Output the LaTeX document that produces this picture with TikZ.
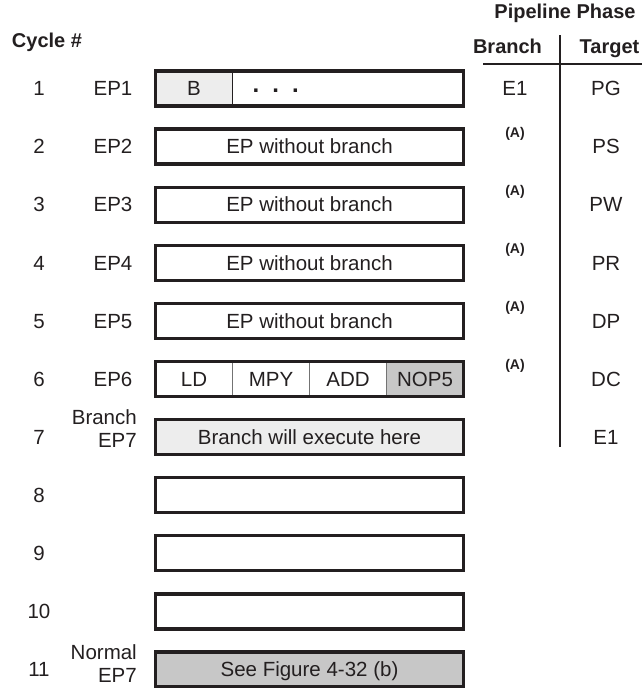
\documentclass[tikz,border=0pt]{standalone}
\usepackage{fontspec}
\setmainfont{Liberation Sans}
\usepackage{xcolor}
\usepackage{tikz}
\usetikzlibrary{positioning}
\definecolor{ink}{RGB}{35,31,32}

\begin{document}
\begin{tikzpicture}[
  x=1pt, y=-1pt,
  font=\fontsize{20.5}{23}\selectfont,
  every node/.style={text=ink},
  lbl/.style={inner sep=0pt, text height=14.5pt, text depth=0pt},
  head/.style={lbl, font=\fontsize{20}{23}\selectfont\bfseries},
  note/.style={inner sep=0pt, font=\fontsize{14}{16}\selectfont\bfseries},
  stage/.style={inner sep=0pt, align=right, anchor=east},
  row/.style={minimum width=308pt, minimum height=35pt, inner sep=0pt, outer sep=0pt, text height=14.5pt, text depth=0pt},
  cell/.style={row, minimum width=77pt},
  frame/.style={draw=ink, line width=3.3pt},
  divider/.style={draw=black!55, line width=1pt},
  rule/.style={draw=ink, line width=1.2pt},
  light/.style={fill=black!7},
  dark/.style={fill=black!22}
]
  \useasboundingbox (0,0) rectangle (642,688);

  \node[row] (r1) at (309.5,88.5) {};
  \node[row, below=23.1pt of r1] (r2) {EP without branch};
  \node[row, below=23.1pt of r2] (r3) {EP without branch};
  \node[row, below=23.1pt of r3] (r4) {EP without branch};
  \node[row, below=23.1pt of r4] (r5) {EP without branch};
  \node[row, below=23.1pt of r5] (r6) {};
  \node[row, light, below=23.1pt of r6] (r7) {Branch will execute here};
  \node[row, below=23.1pt of r7] (r8) {};
  \node[row, below=23.1pt of r8] (r9) {};
  \node[row, below=23.1pt of r9] (r10) {};
  \node[row, dark, below=23.1pt of r10] (r11) {See Figure 4-32 (b)};

  \node[cell, light, anchor=west] (b) at (r1.west) {B};
  \node[inner sep=0pt, right=20pt of b, yshift=-2pt, font=\fontsize{24}{26}\selectfont\bfseries] (dots) {.\hspace{13pt}.\hspace{13pt}.};
  \node[cell, anchor=west] (ld) at (r6.west) {LD};
  \node[cell, right=0pt of ld] (mpy) {MPY};
  \node[cell, right=0pt of mpy] (add) {ADD};
  \node[cell, dark, right=0pt of add] (nop) {NOP5};

  \draw[divider, draw=ink, line width=1.5pt] (b.north east) -- (b.south east);
  \foreach \c in {ld,mpy,add}
    \draw[divider] (\c.north east) -- (\c.south east);
  \foreach \i in {1,...,11}
    \draw[frame] (r\i.north west) rectangle (r\i.south east);

  \node[head] (cycle) at (47,40) {Cycle \#};
  \foreach \i in {1,...,11}
    \node[lbl] (c\i) at (39,0 |- r\i) {\i};
  \foreach \i in {1,...,6}
    \node[lbl] (ep\i) at (113,0 |- r\i) {EP\i};
  \node[stage] (ep7) at (137,429) {Branch\\EP7};
  \node[stage] (ep11) at (137,664) {Normal\\EP7};

  \node[head] (phase) at (565,11) {Pipeline Phase};
  \node[head] (brh) at (507.5,46) {Branch};
  \node[head] (tgh) at (609.5,46) {Target};
  \coordinate (rulel) at (483,64);
  \coordinate (ruler) at (642,64);
  \coordinate (colt) at (560,35);
  \coordinate (colb) at (560,447);
  \draw[rule] (rulel) -- (ruler);
  \draw[rule] (colt) -- (colb);

  \node[lbl] (br1) at (515,0 |- r1) {E1};
  \foreach \i in {2,...,6}
    \node[note, yshift=13pt] (br\i) at (515,0 |- r\i) {(A)};
  \foreach \i/\t in {1/PG,2/PS,3/PW,4/PR,5/DP,6/DC,7/E1}
    \node[lbl] (tg\i) at (606,0 |- r\i) {\t};
\end{tikzpicture}
\end{document}
